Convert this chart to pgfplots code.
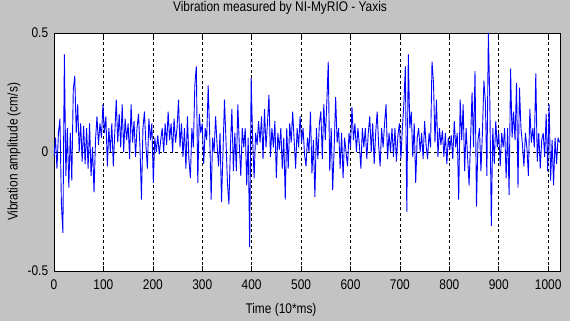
\documentclass[border=0pt]{standalone}
\usepackage{fontspec}
\setmainfont{Liberation Sans}[FakeStretch=0.85]
\usepackage{pgfplots}
\pgfplotsset{compat=1.18}
\definecolor{figbg}{RGB}{195,195,195}
\begin{document}
\fontsize{14pt}{16pt}\selectfont
\begin{tikzpicture}[x=1pt,y=1pt]
\path[use as bounding box] (-54,-50) rectangle (516,271);
\fill[figbg] (-54,-50) rectangle (516,271);
\begin{axis}[
  at={(0,0)}, anchor=south west,
  scale only axis, width=506pt, height=238pt,
  xmin=0, xmax=1024, ymin=-0.5, ymax=0.5,
  axis background/.style={fill=white},
  xtick={0,100,...,1000}, ytick={-0.5,0,0.5},
  yticklabels={-0.5,0,0.5},
  tick align=inside, tick pos=both,
  major tick length=5pt,
  tick style={black, line width=0.6pt},
  axis line style={black, line width=0.7pt},
  grid=major,
  major grid style={black, line width=0.6pt, dash pattern=on 3pt off 2.5pt},
  /pgf/number format/assume math mode=true,
  /pgf/number format/1000 sep={},
  scaled y ticks=false,
  xticklabel style={anchor=base, yshift=-19pt, font=\fontsize{14pt}{16pt}\selectfont},
  yticklabel style={anchor=east, xshift=-1pt, font=\fontsize{14pt}{16pt}\selectfont},
  xlabel={Time (10*ms)},
  xlabel style={at={(axis description cs:0.4486,-0.1765)}, anchor=base, font=\fontsize{14pt}{16pt}\selectfont},
  ylabel={Vibration amplitude (cm/s)},
  ylabel style={at={(axis description cs:-0.079,0.5)}, anchor=center, font=\fontsize{14pt}{16pt}\selectfont},
]
\addplot[color={rgb,255:red,0;green,0;blue,255}, line width=0.9pt, mark=none, line join=bevel] coordinates {
(0,-0.02) (3,0.06) (6,-0.07) (9,0.08) (12,0.14) (15,-0.22) (18,-0.34) (21,0.41) (24,-0.1) (27,0.1)
(30,-0.15) (33,0.08) (36,-0.12) (39,0.26) (42,0.32) (45,0.08) (48,0.2) (51,0.0) (54,0.12) (57,-0.04)
(60,0.11) (63,-0.05) (66,0.1) (69,-0.07) (72,0.12) (75,-0.1) (78,0.02) (81,-0.17) (84,0.05) (87,0.15)
(90,0.03) (93,0.12) (96,0.06) (99,0.2) (102,0.08) (105,0.15) (108,-0.06) (111,0.1) (114,0.0) (117,0.12)
(120,-0.06) (123,0.08) (126,0.22) (129,0.04) (132,0.16) (135,0.02) (138,0.2) (141,0.0) (144,0.14) (147,0.05)
(150,0.12) (153,-0.03) (156,0.2) (159,0.04) (162,0.13) (165,-0.02) (168,0.1) (171,0.16) (174,0.02) (177,-0.2)
(180,0.1) (183,0.17) (186,0.03) (189,-0.07) (192,0.14) (195,0.05) (198,0.12) (201,-0.13) (204,0.06) (207,0.0)
(210,0.07) (213,-0.01) (216,0.05) (219,0.1) (222,0.0) (225,0.12) (228,0.03) (231,0.17) (234,0.05) (237,0.12)
(240,0.0) (243,0.14) (246,0.04) (249,0.1) (252,0.22) (255,0.02) (258,0.12) (261,-0.02) (264,0.1) (267,-0.07)
(270,0.15) (273,-0.03) (276,-0.11) (279,0.1) (282,0.02) (285,0.28) (288,0.36) (291,-0.13) (294,0.16) (297,0.08)
(300,0.12) (303,-0.05) (306,0.1) (309,0.05) (312,0.28) (315,0.08) (318,-0.2) (321,0.06) (324,0.0) (327,0.15)
(330,0.03) (333,-0.06) (336,0.08) (339,-0.21) (342,0.0) (345,0.22) (348,0.05) (351,-0.13) (354,-0.22) (357,0.02)
(360,0.18) (363,-0.08) (366,0.08) (369,-0.08) (372,0.2) (375,0.03) (378,-0.1) (381,0.1) (384,0.02) (387,0.1)
(390,-0.14) (393,0.06) (396,-0.4) (399,0.31) (402,0.05) (405,-0.11) (408,0.08) (411,0.03) (414,0.13) (417,0.04)
(420,0.15) (423,-0.03) (426,0.18) (429,0.02) (432,0.12) (435,0.24) (438,-0.02) (441,0.1) (444,0.02) (447,0.13)
(450,-0.11) (453,0.08) (456,0.01) (459,0.1) (462,-0.07) (465,0.06) (468,-0.2) (471,0.1) (474,-0.07) (477,0.12)
(480,0.04) (483,0.17) (486,0.05) (489,-0.07) (492,0.1) (495,0.02) (498,0.15) (501,0.04) (504,0.1) (507,-0.01)
(510,-0.06) (513,0.06) (516,0.0) (519,0.17) (522,-0.09) (525,0.05) (528,-0.19) (531,0.1) (534,-0.03) (537,0.12)
(540,0.17) (543,-0.03) (546,0.2) (549,0.05) (552,0.2) (555,0.38) (558,-0.08) (561,0.1) (564,-0.16) (567,0.02)
(570,0.23) (573,0.04) (576,0.1) (579,-0.07) (582,0.08) (585,-0.11) (588,0.06) (591,0.0) (594,-0.06) (597,0.08)
(600,0.02) (603,0.19) (606,0.05) (609,0.12) (612,0.0) (615,0.1) (618,0.03) (621,-0.07) (624,0.1) (627,0.02)
(630,0.1) (633,-0.03) (636,0.08) (639,0.15) (642,0.0) (645,0.12) (648,-0.05) (651,0.08) (654,0.17) (657,0.03)
(660,-0.06) (663,0.1) (666,0.02) (669,0.12) (672,0.2) (675,-0.03) (678,0.08) (681,0.0) (684,0.1) (687,-0.02)
(690,0.1) (693,-0.04) (696,0.07) (699,0.12) (702,-0.03) (705,0.1) (708,0.2) (711,0.36) (714,-0.25) (717,0.41)
(720,0.1) (723,0.17) (726,-0.02) (729,0.12) (732,-0.13) (735,0.06) (738,0.1) (741,0.0) (744,0.08) (747,-0.03)
(750,0.13) (753,0.03) (756,-0.03) (759,0.08) (762,0.02) (765,0.38) (768,0.29) (771,0.04) (774,0.22) (777,-0.02)
(780,0.1) (783,0.03) (786,0.09) (789,-0.02) (792,0.08) (795,-0.05) (798,0.06) (801,0.01) (804,0.07) (807,-0.03)
(810,0.13) (813,0.02) (816,0.08) (819,-0.2) (822,0.22) (825,0.05) (828,0.2) (831,-0.08) (834,0.1) (837,-0.02)
(840,-0.14) (843,0.05) (846,0.25) (849,0.02) (852,0.34) (855,-0.23) (858,0.05) (861,0.1) (864,-0.08) (867,0.08)
(870,0.3) (873,0.21) (876,-0.1) (879,0.5) (882,0.21) (885,-0.31) (888,0.1) (891,-0.05) (894,0.13) (897,0.02)
(900,0.08) (903,-0.06) (906,0.08) (909,0.02) (912,0.1) (915,-0.11) (918,0.1) (921,-0.18) (924,0.35) (927,0.06)
(930,0.17) (933,0.05) (936,0.29) (939,-0.15) (942,0.27) (945,0.1) (948,0.03) (951,-0.06) (954,0.08) (957,0.02)
(960,-0.1) (963,0.18) (966,0.04) (969,0.1) (972,0.02) (975,0.33) (978,-0.04) (981,0.08) (984,-0.07) (987,0.05)
(990,0.08) (993,-0.02) (996,0.16) (999,-0.08) (1002,0.2) (1005,-0.12) (1008,0.05) (1011,-0.14) (1014,0.06) (1017,-0.05)
(1020,0.06) (1023,0.04)
};
\end{axis}
\node[anchor=base, inner sep=0pt] at (226,259) {Vibration measured by NI-MyRIO - Yaxis};
\end{tikzpicture}
\end{document}
